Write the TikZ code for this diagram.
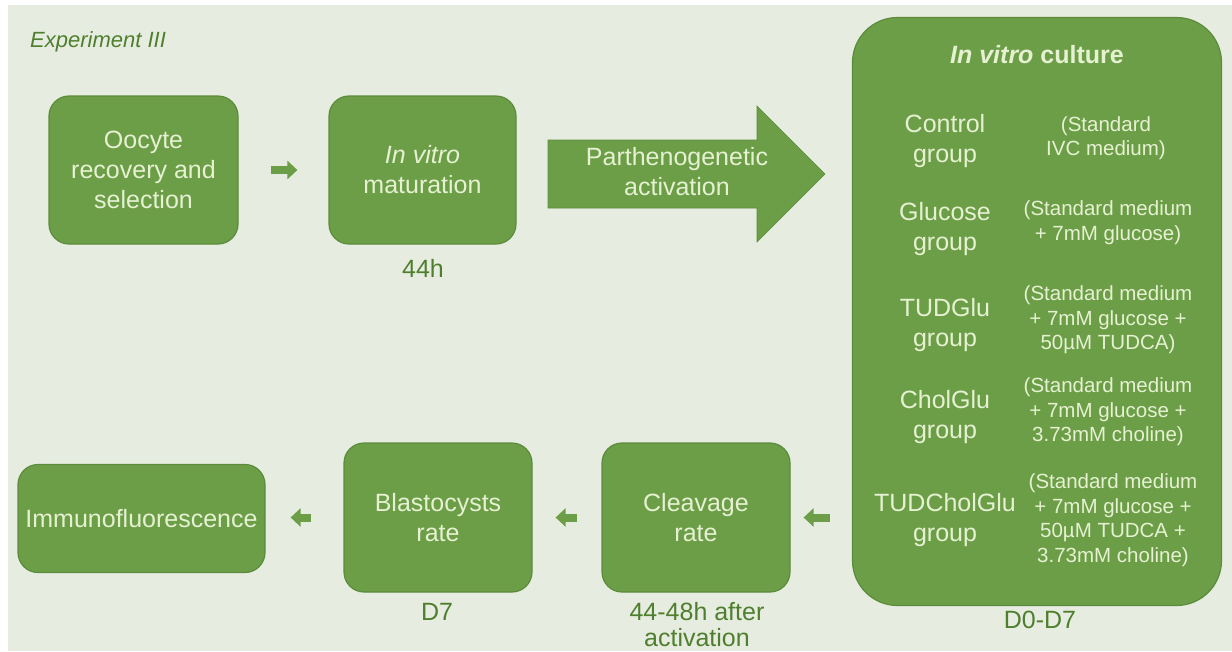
\documentclass[tikz,border=0pt]{standalone}
\usepackage{fontspec}
\setmainfont{Liberation Sans}
\usetikzlibrary{arrows.meta}
\definecolor{bg}{HTML}{E6EDE0}
\definecolor{boxg}{HTML}{6C9E48}
\definecolor{boxedge}{HTML}{5C8B3B}
\definecolor{boxtxt}{HTML}{E6F1D2}
\definecolor{lbl}{HTML}{4F7F2E}
\newcommand\bigtxt{\fontsize{25}{30}\selectfont}
\newcommand\smalltxt{\fontsize{20.5}{24.5}\selectfont}
\tikzset{
  stepbox/.style={draw=boxedge, line width=1.2pt, fill=boxg, rounded corners=20pt,
    inner sep=0pt, text=boxtxt, align=center, font=\bigtxt},
  intxt/.style={text=boxtxt, align=center, inner sep=0pt},
  lab/.style={text=lbl, align=center, font=\bigtxt, inner sep=0pt},
  blockarr/.style={draw=boxg, line width=8pt, -{Triangle[length=10pt,width=18pt]}},
}
\begin{document}
\begin{tikzpicture}[x=1pt,y=-1pt]
\useasboundingbox (0,0) rectangle (1232,651);
\fill[white] (0,0) rectangle (1232,651);
\fill[bg] (8,5) rectangle (1232,651);

\node[text=lbl, anchor=west, inner sep=0pt, font=\fontsize{22}{26}\selectfont\itshape] (title) at (30,42) {Experiment III};

% top row
\node[stepbox, minimum width=189pt, minimum height=148pt] (oocyte) at (143.5,170) {Oocyte\\recovery and\\selection};
\node[stepbox, minimum width=187pt, minimum height=148pt] (ivm) at (422.5,170) {\textit{In vitro}\\maturation};
\node[lab] (h44) at (423,268) {44h};
\draw[blockarr, shorten <=32pt, shorten >=31pt] (oocyte.east) -- (ivm.west);

% big arrow
\fill[boxg, draw=boxedge, line width=0.6pt] (548,140) -- (757,140) -- (757,106) -- (825,174) -- (757,242) -- (757,208) -- (548,208) -- cycle;
\node[intxt, font=\bigtxt] (pa) at (677,172) {Parthenogenetic\\activation};

% culture box
\node[stepbox, rounded corners=45pt, minimum width=369pt, minimum height=588pt] (culture) at (1037,311.5) {};
\node[intxt, font=\fontsize{25}{28}\selectfont\bfseries] (ctitle) at (1037,55) {\textit{In vitro} culture};

\node[intxt, font=\bigtxt] (g1) at (945,141) {Control\\group};
\node[intxt, font=\smalltxt] (m1) at (1106,138) {(Standard\\IVC medium)};

\node[intxt, font=\bigtxt] (g2) at (945,229.5) {Glucose\\group};
\node[intxt, font=\smalltxt] (m2) at (1108,222.5) {(Standard medium\\+ 7mM glucose)};

\node[intxt, font=\bigtxt] (g3) at (945,325.5) {TUDGlu\\group};
\node[intxt, font=\smalltxt] (m3) at (1108,320) {(Standard medium\\+ 7mM glucose +\\50µM TUDCA)};

\node[intxt, font=\bigtxt] (g4) at (945,417) {CholGlu\\group};
\node[intxt, font=\smalltxt] (m4) at (1108,412) {(Standard medium\\+ 7mM glucose +\\3.73mM choline)};

\node[intxt, font=\bigtxt] (g5) at (945,520) {TUDCholGlu\\group};
\node[intxt, font=\smalltxt] (m5) at (1113,520) {(Standard medium\\+ 7mM glucose +\\50µM TUDCA +\\3.73mM choline)};

\node[lab] (d07) at (1040,620) {D0-D7};

% bottom row
\node[stepbox, minimum width=188pt, minimum height=149pt] (cleave) at (696,517.5) {Cleavage\\rate};
\node[stepbox, minimum width=188pt, minimum height=149pt] (blast) at (438,517.5) {Blastocysts\\rate};
\node[stepbox, minimum width=247pt, minimum height=108pt] (immuno) at (141.5,518.5) {Immunofluorescence};
\node[lab] (d7) at (437,612) {D7};
\node[lab, font=\fontsize{25}{26}\selectfont] (t4448) at (697,625) {44-48h after\\activation};

\draw[blockarr, shorten <=22pt, shorten >=13pt] (culture.west |- cleave.east) -- (cleave.east);
\draw[blockarr, shorten <=24pt, shorten >=23pt] (cleave.west) -- (blast.east);
\draw[blockarr, shorten <=32pt, shorten >=25pt] (blast.west) -- (immuno.east |- blast.west);
\end{tikzpicture}
\end{document}
